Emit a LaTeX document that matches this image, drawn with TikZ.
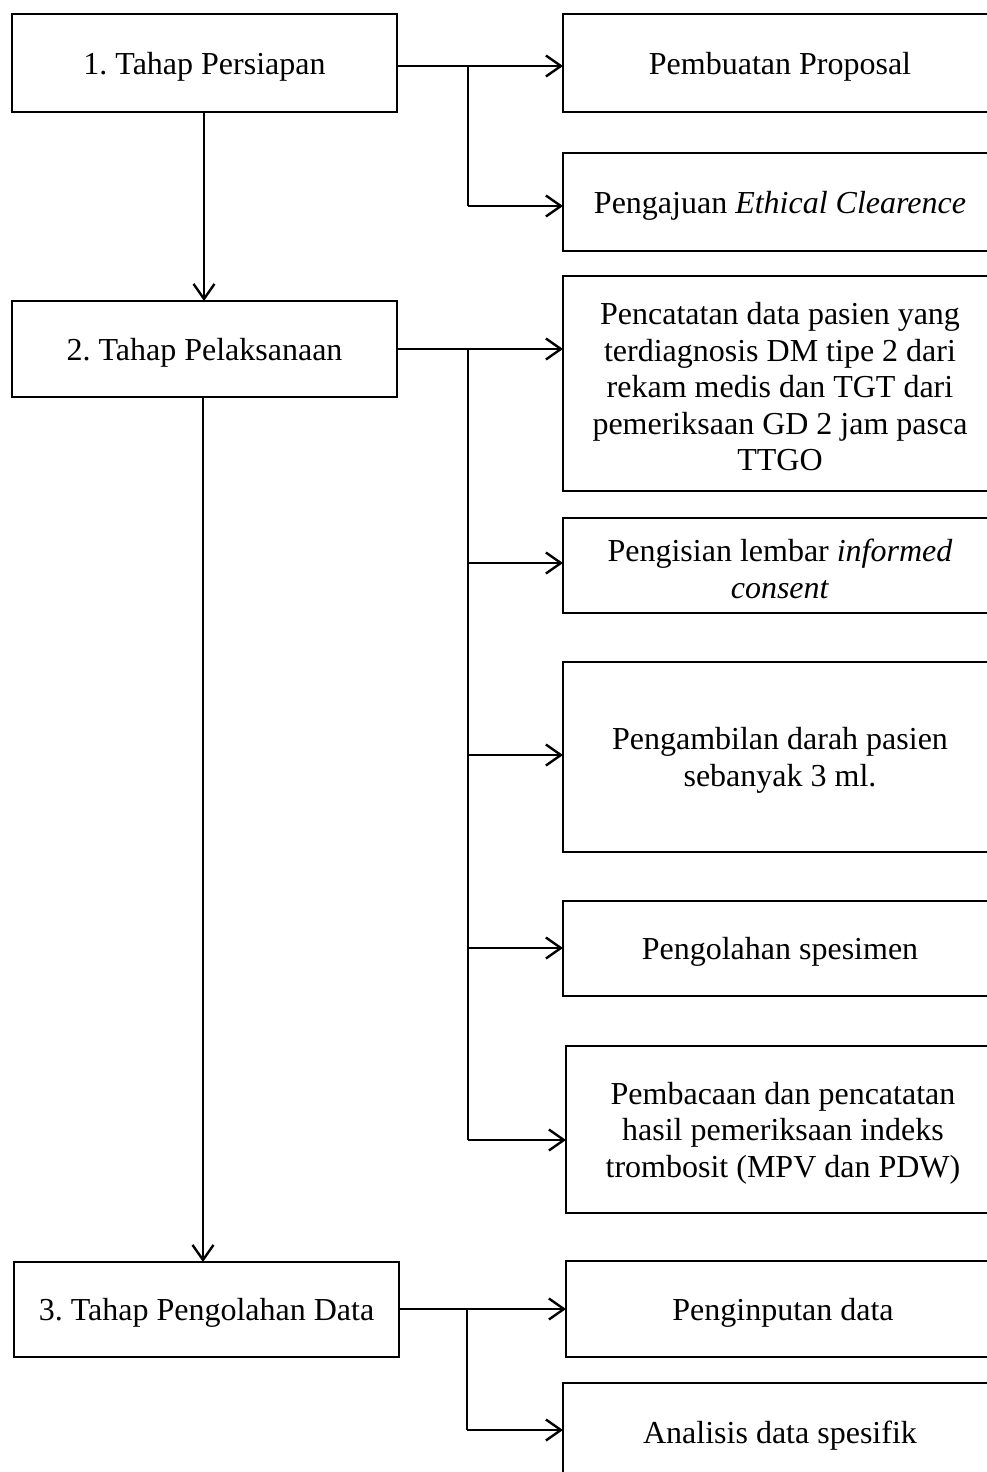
\documentclass[tikz,border=0pt]{standalone}
\usepackage{fontspec}
\setmainfont{Liberation Serif}
\usetikzlibrary{arrows.meta}
\frenchspacing
\begin{document}
\begin{tikzpicture}[x=1pt,y=-1pt,
  box/.style={draw, line width=1.4pt, inner sep=0pt, outer sep=0pt, anchor=north west},
  lbox/.style={box, minimum width=385pt},
  rbox/.style={box, minimum width=434pt},
  txt/.style={align=center, inner sep=0pt, font=\fontsize{32}{36.5}\selectfont, yshift=-3.5pt},
  arr/.style={line width=2.4pt, -{Straight Barb[length=15pt,width=21pt]}},
  ln/.style={line width=2.4pt}]
\clip (0,0) rectangle (987,1472);
\fill[white] (0,0) rectangle (987,1472);
% left column
\node[lbox, minimum height=98pt] (L1) at (12,14) {};
\node[lbox, minimum height=96pt] (L2) at (12,301) {};
\node[lbox, minimum height=95pt] (L3) at (14,1262) {};
\node[txt] (L1t) at (L1.center) {1. Tahap Persiapan};
\node[txt] (L2t) at (L2.center) {2. Tahap Pelaksanaan};
\node[txt] (L3t) at (L3.center) {3. Tahap Pengolahan Data};
% right column
\node[rbox, minimum height=98pt] (R1) at (563,14) {};
\node[rbox, minimum height=98pt] (R2) at (563,153) {};
\node[rbox, minimum height=215pt] (R3) at (563,276) {};
\node[rbox, minimum height=95pt] (R4) at (563,518) {};
\node[rbox, minimum height=190pt] (R5) at (563,662) {};
\node[rbox, minimum height=95pt] (R6) at (563,901) {};
\node[rbox, minimum height=167pt] (R7) at (566,1046) {};
\node[rbox, minimum height=96pt] (R8) at (566,1261) {};
\node[rbox, minimum height=98pt] (R9) at (563,1383) {};
\node[txt] (R1t) at (R1.center) {Pembuatan Proposal};
\node[txt] (R2t) at (R2.center) {Pengajuan \textit{Ethical Clearence}};
\node[txt] (R3t) at (R3.center) {Pencatatan data pasien yang\\ terdiagnosis DM tipe 2 dari\\ rekam medis dan TGT dari\\ pemeriksaan GD 2 jam pasca\\ TTGO};
\node[txt] (R4t) at (R4.center) {Pengisian lembar \textit{informed}\\ \textit{consent}};
\node[txt] (R5t) at (R5.center) {Pengambilan darah pasien\\ sebanyak 3 ml.};
\node[txt] (R6t) at (R6.center) {Pengolahan spesimen};
\node[txt] (R7t) at (R7.center) {Pembacaan dan pencatatan\\ hasil pemeriksaan indeks\\ trombosit (MPV dan PDW)};
\node[txt] (R8t) at (R8.center) {Penginputan data};
\node[txt] (R9t) at (R9.center) {Analisis data spesifik};
% branch points
\coordinate (a1) at (468,66);
\coordinate (a2) at (468,206);
\coordinate (b1) at (468,349);
\coordinate (b2) at (468,563);
\coordinate (b3) at (468,755);
\coordinate (b4) at (468,948);
\coordinate (b5) at (468,1140);
\coordinate (c1) at (467,1309);
\coordinate (c2) at (467,1430);
% vertical flow
\draw[arr] ([xshift=-0.5pt]L1.south) -- ([xshift=-0.5pt]L1.south |- L2.north);
\draw[arr] ([xshift=-1.5pt]L2.south) -- ([xshift=-1.5pt]L2.south |- L3.north);
% stage 1
\draw[arr] (L1.east |- a1) -- (a1 -| R1.west);
\draw[ln] (a1) -- (a2);
\draw[arr] (a2) -- (a2 -| R2.west);
% stage 2
\draw[arr] (L2.east |- b1) -- (b1 -| R3.west);
\draw[ln] (b1) -- (b5);
\draw[arr] (b2) -- (b2 -| R4.west);
\draw[arr] (b3) -- (b3 -| R5.west);
\draw[arr] (b4) -- (b4 -| R6.west);
\draw[arr] (b5) -- (b5 -| R7.west);
% stage 3
\draw[arr] (L3.east |- c1) -- (c1 -| R8.west);
\draw[ln] (c1) -- (c2);
\draw[arr] (c2) -- (c2 -| R9.west);
\end{tikzpicture}
\end{document}
